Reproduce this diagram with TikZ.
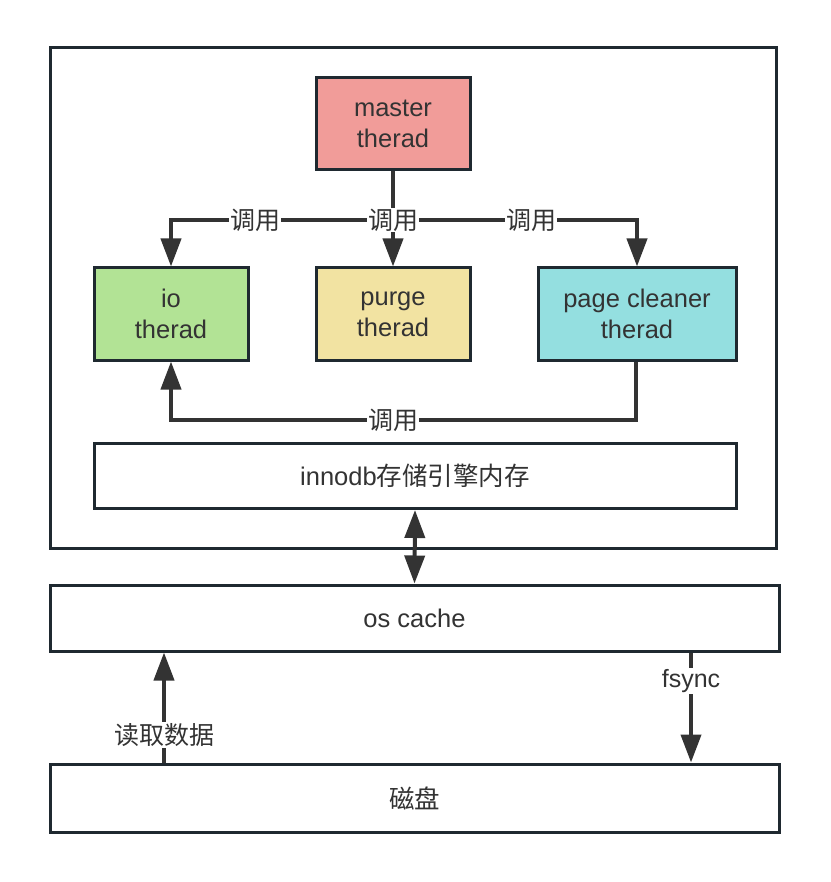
\documentclass[tikz,border=0pt]{standalone}
\usepackage{fontspec}
\setmainfont{Liberation Sans}
\newfontfamily\cjk{Noto Sans CJK SC}
\usetikzlibrary{arrows.meta}
\definecolor{bd}{HTML}{1F2930}
\definecolor{ink}{HTML}{333333}
\definecolor{cpink}{HTML}{F19C99}
\definecolor{cgreen}{HTML}{B2E395}
\definecolor{cyellow}{HTML}{F2E3A2}
\definecolor{ccyan}{HTML}{94DFE0}
\tikzset{
  box/.style={draw=bd, line width=3pt, minimum width=154pt, minimum height=92pt, inner sep=0pt,
    align=center, text=ink, font=\fontsize{25.5}{31}\selectfont},
  wbox/.style={draw=bd, line width=3pt, fill=white, inner sep=0pt, text=ink, font=\fontsize{25.5}{31}\selectfont},
  arr/.style={draw=ink, line width=4pt, -{Triangle[length=28pt,width=20pt]}},
  darr/.style={draw=ink, line width=4pt, {Triangle[length=28pt,width=20pt]}-{Triangle[length=28pt,width=20pt]}},
  lbl/.style={fill=white, text=ink, inner sep=1pt, font=\fontsize{25}{30}\selectfont},
}
\begin{document}
\begin{tikzpicture}[x=1pt,y=-1pt]
\useasboundingbox (0,0) rectangle (830,882);
\node[wbox, minimum width=726pt, minimum height=500pt] (outer) at (413,298) {};
\node[box, fill=cpink] (master) at (393,124) {master\\therad};
\node[box, fill=cgreen] (io) at (171,314) {io\\therad};
\node[box, fill=cyellow] (purge) at (393,314) {purge\\therad};
\node[box, fill=ccyan, minimum width=198pt] (cleaner) at (637,314) {page cleaner\\therad};
\node[wbox, minimum width=642pt, minimum height=65pt] (innodb) at (415,476) {innodb{\cjk 存储引擎内存}};
\node[wbox, minimum width=729pt, minimum height=66pt] (oscache) at (414.5,618) {os cache};
\node[wbox, minimum width=729pt, minimum height=68pt] (disk) at (414.5,798) {\cjk 磁盘};

\coordinate (split) at (393,220);
\draw[arr] (master.south) -- (split) -| (io.north);
\draw[arr] (split) -| (cleaner.north);
\draw[arr] (split) -- (purge.north);
\node[lbl] (l1) at (255,220) {\cjk 调用};
\node[lbl] (l2) at (393,220) {\cjk 调用};
\node[lbl] (l3) at (531,220) {\cjk 调用};

\coordinate (back) at (636,420);
\draw[arr] (cleaner.south -| back) -- (back) -| (io.south);
\node[lbl] (l4) at (393,420) {\cjk 调用};

\draw[darr] (innodb.south) -- (oscache.north);

\draw[arr] (disk.north -| 164,0) -- (oscache.south -| 164,0);
\node[lbl] (l5) at (164,735) {\cjk 读取数据};
\draw[arr] (oscache.south -| 691,0) -- (disk.north -| 691,0);
\node[lbl] (l6) at (691,681) {fsync};
\end{tikzpicture}
\end{document}
